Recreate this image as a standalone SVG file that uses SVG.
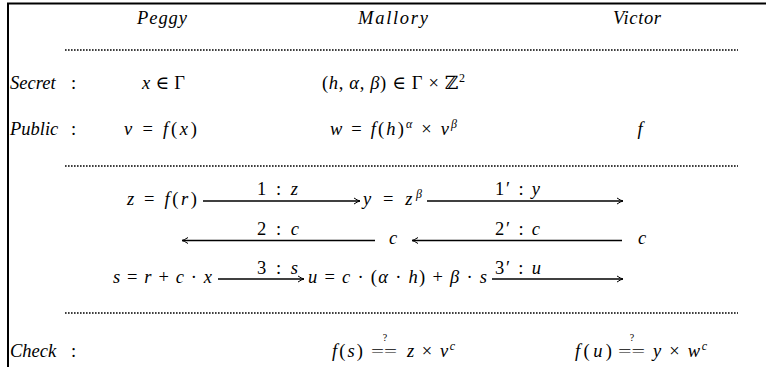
<svg xmlns="http://www.w3.org/2000/svg" width="766" height="367" viewBox="0 0 766 367">
<style>
.t{font-family:"Liberation Serif","DejaVu Serif",serif;font-size:18.5px;fill:#000}
.i{font-style:italic}
.s{font-size:12px}
.eq{font-family:"Liberation Serif","DejaVu Serif",serif;font-size:15px;fill:#000}
.q{font-family:"Liberation Serif","DejaVu Serif",serif;font-size:10px;fill:#000;text-anchor:middle}
.dot{stroke:#000;stroke-width:1.6;stroke-dasharray:1.6 1.4;fill:none}
.arr{stroke:#000;stroke-width:1.6;fill:none;marker-end:url(#ah)}
.frame{stroke:#000;stroke-width:2;fill:none}
</style>
<defs>
<marker id="ah" markerUnits="userSpaceOnUse" viewBox="-8 -4 9 8" refX="0" refY="0" markerWidth="9" markerHeight="8" orient="auto">
<path d="M-6,-3 Q-2.5,-0.6 0,0 Q-2.5,0.6 -6,3" stroke="#000" stroke-width="1" fill="none"/>
</marker>
</defs>
<rect width="766" height="367" fill="#fff"/>
<g id="frame">
<path class="frame" d="M8,367 V3.5 H766"/>
</g>
<g id="separators">
<line class="dot" x1="65" y1="50" x2="738" y2="50"/>
<line class="dot" x1="65" y1="166" x2="738" y2="166"/>
<line class="dot" x1="65" y1="313" x2="738" y2="313"/>
</g>
<g id="peggy">
<text class="t i" x="137" y="24" textLength="50" lengthAdjust="spacing">Peggy</text>
</g>
<g id="mallory">
<text class="t i" x="358" y="24" textLength="70" lengthAdjust="spacing">Mallory</text>
</g>
<g id="victor">
<text class="t i" x="613" y="24" textLength="48" lengthAdjust="spacing">Victor</text>
</g>
<g id="secret-row">
<text class="t" x="10" y="89"><tspan class="i">Secret</tspan><tspan x="71">:</tspan></text>
<text class="t" x="142" y="89" textLength="43" lengthAdjust="spacing"><tspan class="i">x</tspan> ∈ Γ</text>
<text class="t" x="322" y="89" textLength="143" lengthAdjust="spacing">(<tspan class="i">h</tspan>, <tspan class="i">α</tspan>, <tspan class="i">β</tspan>) ∈ Γ × ℤ<tspan class="s" dy="-7">2</tspan></text>
</g>
<g id="public-row">
<text class="t" x="10" y="135"><tspan class="i">Public</tspan><tspan x="71">:</tspan></text>
<text class="t" x="124" y="135" textLength="73" lengthAdjust="spacing"><tspan class="i">v</tspan> = <tspan class="i">f</tspan>(<tspan class="i">x</tspan>)</text>
<text class="t" x="330" y="135" textLength="127" lengthAdjust="spacing"><tspan class="i">w</tspan> = <tspan class="i">f</tspan>(<tspan class="i">h</tspan>)<tspan class="s i" dy="-7">α</tspan><tspan dy="7"> × </tspan><tspan class="i">v</tspan><tspan class="s i" dy="-7">β</tspan></text>
<text class="t i" x="640" y="135" text-anchor="middle">f</text>
</g>
<g id="protocol-values">
<text class="t" x="127" y="205" textLength="70" lengthAdjust="spacing"><tspan class="i">z</tspan> = <tspan class="i">f</tspan>(<tspan class="i">r</tspan>)</text>
<text class="t" x="363" y="205" textLength="59" lengthAdjust="spacing"><tspan class="i">y</tspan> = <tspan class="i">z</tspan><tspan class="s i" dy="-7">β</tspan></text>
<text class="t i" x="393" y="244" text-anchor="middle">c</text>
<text class="t i" x="642" y="244" text-anchor="middle">c</text>
<text class="t" x="113" y="283" textLength="99" lengthAdjust="spacing"><tspan class="i">s</tspan> = <tspan class="i">r</tspan> + <tspan class="i">c</tspan> · <tspan class="i">x</tspan></text>
<text class="t" x="308" y="283" textLength="179" lengthAdjust="spacing"><tspan class="i">u</tspan> = <tspan class="i">c</tspan> · (<tspan class="i">α</tspan> · <tspan class="i">h</tspan>) + <tspan class="i">β</tspan> · <tspan class="i">s</tspan></text>
</g>
<g id="connectors">
<line class="arr" x1="203" y1="201" x2="360" y2="201"/>
<line class="arr" x1="427" y1="201" x2="623" y2="201"/>
<line class="arr" x1="375" y1="240.5" x2="182" y2="240.5"/>
<line class="arr" x1="622" y1="240.5" x2="412" y2="240.5"/>
<line class="arr" x1="218" y1="279" x2="304" y2="279"/>
<line class="arr" x1="492" y1="279" x2="623" y2="279"/>
<text class="t" x="257" y="195" textLength="41" lengthAdjust="spacing">1 : <tspan class="i">z</tspan></text>
<text class="t" x="495" y="195" textLength="45" lengthAdjust="spacing">1′ : <tspan class="i">y</tspan></text>
<text class="t" x="257" y="235" textLength="42" lengthAdjust="spacing">2 : <tspan class="i">c</tspan></text>
<text class="t" x="495" y="235" textLength="45" lengthAdjust="spacing">2′ : <tspan class="i">c</tspan></text>
<text class="t" x="257" y="274" textLength="41" lengthAdjust="spacing">3 : <tspan class="i">s</tspan></text>
<text class="t" x="495" y="274" textLength="46" lengthAdjust="spacing">3′ : <tspan class="i">u</tspan></text>
</g>
<g id="check-row">
<text class="t" x="10" y="357"><tspan class="i">Check</tspan><tspan x="71">:</tspan></text>
<text class="t" x="332" y="357" textLength="31" lengthAdjust="spacing"><tspan class="i">f</tspan>(<tspan class="i">s</tspan>)</text>
<text class="eq" x="371" y="356" textLength="26" lengthAdjust="spacingAndGlyphs">==</text>
<text class="q" x="385" y="341">?</text>
<text class="t" x="407" y="357" textLength="48" lengthAdjust="spacing"><tspan class="i">z</tspan> × <tspan class="i">v</tspan><tspan class="s i" dy="-7">c</tspan></text>
<text class="t" x="575" y="357" textLength="37" lengthAdjust="spacing"><tspan class="i">f</tspan>(<tspan class="i">u</tspan>)</text>
<text class="eq" x="618" y="356" textLength="27" lengthAdjust="spacingAndGlyphs">==</text>
<text class="q" x="632" y="341">?</text>
<text class="t" x="653" y="357" textLength="54" lengthAdjust="spacing"><tspan class="i">y</tspan> × <tspan class="i">w</tspan><tspan class="s i" dy="-7">c</tspan></text>
</g>
</svg>
